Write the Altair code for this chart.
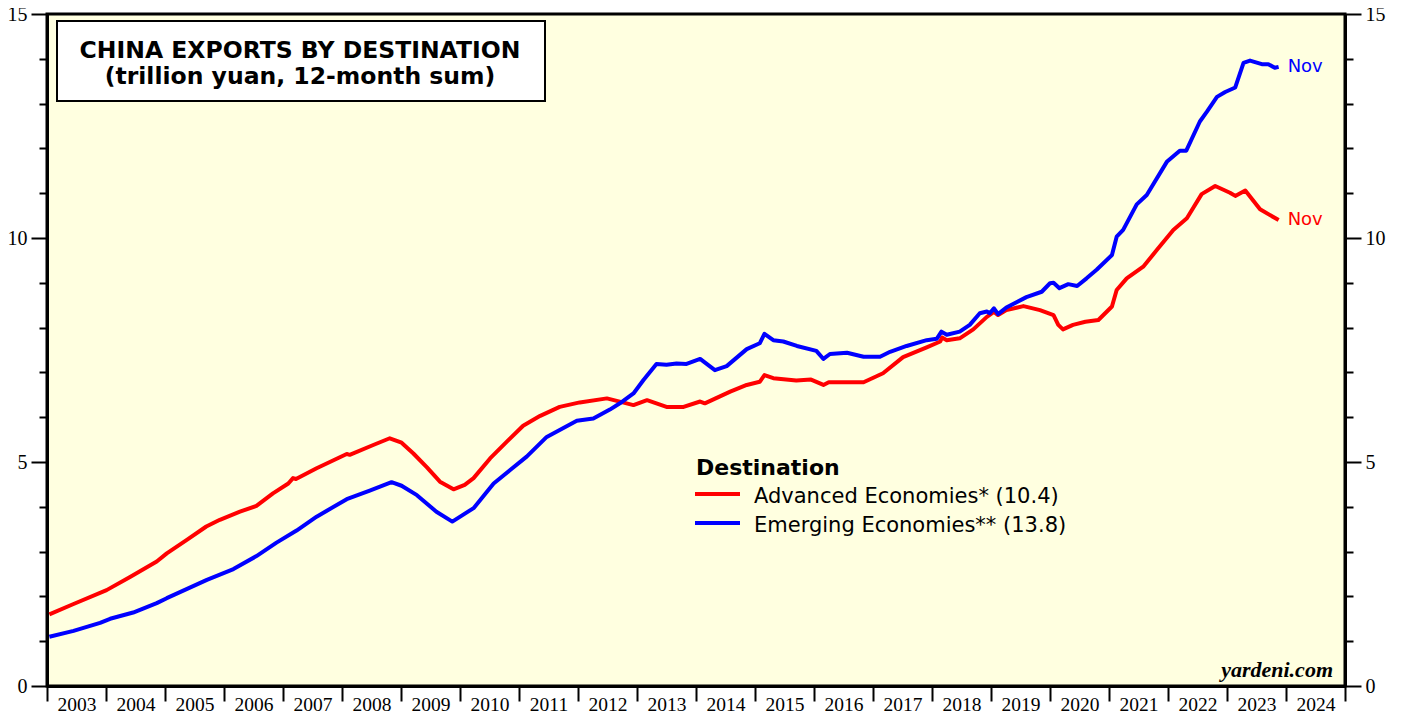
import altair as alt
import pandas as pd

# ---- data (decimal year, trillion yuan) ----
adv_t = [2003.04, 2003.45, 2004.01, 2004.40, 2004.86, 2005.03, 2005.37, 2005.70, 2005.93,
         2006.27, 2006.55, 2006.83, 2007.09, 2007.17, 2007.22, 2007.57, 2008.08, 2008.13,
         2008.53, 2008.81, 2009.01, 2009.21, 2009.44, 2009.66, 2009.89, 2010.08, 2010.23,
         2010.51, 2010.79, 2011.07, 2011.36, 2011.69, 2012.03, 2012.49, 2012.94, 2013.17,
         2013.50, 2013.79, 2014.07, 2014.15, 2014.58, 2014.86, 2015.08, 2015.16, 2015.31,
         2015.70, 2015.95, 2016.16, 2016.25, 2016.84, 2017.17, 2017.51, 2017.91, 2018.14,
         2018.17, 2018.25, 2018.47, 2018.70, 2018.93, 2019.05, 2019.12, 2019.26, 2019.55,
         2019.83, 2020.06, 2020.14, 2020.22, 2020.39, 2020.60, 2020.82, 2021.05, 2021.13,
         2021.30, 2021.58, 2021.81, 2022.09, 2022.32, 2022.57, 2022.80, 2023.05, 2023.14,
         2023.31, 2023.56, 2023.875]
adv_v = [1.60, 1.83, 2.14, 2.43, 2.78, 2.96, 3.26, 3.56, 3.71,
         3.89, 4.02, 4.30, 4.52, 4.64, 4.62, 4.86, 5.18, 5.16,
         5.38, 5.53, 5.43, 5.19, 4.88, 4.56, 4.39, 4.49, 4.64,
         5.08, 5.45, 5.81, 6.03, 6.23, 6.33, 6.42, 6.27, 6.38,
         6.23, 6.23, 6.35, 6.31, 6.57, 6.72, 6.79, 6.94, 6.87,
         6.82, 6.84, 6.72, 6.78, 6.78, 6.98, 7.34, 7.56, 7.69,
         7.78, 7.72, 7.76, 7.96, 8.24, 8.35, 8.28, 8.39, 8.48,
         8.39, 8.28, 8.06, 7.96, 8.06, 8.13, 8.17, 8.47, 8.84,
         9.10, 9.36, 9.73, 10.18, 10.44, 10.98, 11.16, 11.01, 10.94,
         11.06, 10.64, 10.40]

emg_t = [2003.04, 2003.45, 2003.90, 2004.07, 2004.46, 2004.86, 2005.03, 2005.71, 2006.16,
         2006.55, 2006.89, 2007.23, 2007.57, 2008.08, 2008.47, 2008.84, 2009.01, 2009.27,
         2009.60, 2009.87, 2010.23, 2010.57, 2010.85, 2011.13, 2011.47, 2011.98, 2012.26,
         2012.54, 2012.71, 2012.94, 2013.11, 2013.33, 2013.50, 2013.67, 2013.84, 2014.07,
         2014.32, 2014.52, 2014.86, 2015.08, 2015.16, 2015.31, 2015.48, 2015.71, 2016.04,
         2016.16, 2016.27, 2016.56, 2016.84, 2017.12, 2017.29, 2017.57, 2017.91, 2018.08,
         2018.16, 2018.25, 2018.47, 2018.64, 2018.81, 2018.93, 2018.98, 2019.05, 2019.12,
         2019.26, 2019.60, 2019.86, 2020.00, 2020.06, 2020.16, 2020.31, 2020.46, 2020.62,
         2020.79, 2021.05, 2021.13, 2021.24, 2021.47, 2021.64, 2021.98, 2022.20, 2022.31,
         2022.54, 2022.66, 2022.83, 2022.97, 2023.14, 2023.28, 2023.39, 2023.59, 2023.70,
         2023.81, 2023.875]
emg_v = [1.10, 1.23, 1.41, 1.50, 1.64, 1.85, 1.96, 2.37, 2.61,
         2.90, 3.20, 3.47, 3.78, 4.17, 4.36, 4.55, 4.47, 4.26,
         3.89, 3.67, 3.97, 4.52, 4.82, 5.12, 5.56, 5.92, 5.97,
         6.17, 6.31, 6.53, 6.83, 7.19, 7.17, 7.20, 7.19, 7.30,
         7.05, 7.14, 7.52, 7.65, 7.86, 7.72, 7.69, 7.59, 7.48,
         7.30, 7.41, 7.44, 7.35, 7.35, 7.46, 7.59, 7.72, 7.75,
         7.91, 7.84, 7.91, 8.06, 8.32, 8.36, 8.32, 8.43, 8.30,
         8.45, 8.68, 8.80, 8.99, 9.00, 8.88, 8.97, 8.93, 9.10,
         9.29, 9.62, 10.03, 10.18, 10.75, 10.96, 11.70, 11.95, 11.95,
         12.60, 12.82, 13.15, 13.26, 13.36, 13.91, 13.96, 13.88, 13.88,
         13.80, 13.82]

series_names = ["Advanced Economies* (10.4)", "Emerging Economies** (13.8)"]
series_colors = ["#FF0000", "#0000FF"]
end_labels = ["Nov", "Nov"]
years = list(range(2003, 2026))
y_ticks = list(range(0, 16))

rows = [{"t": t, "v": v, "s": series_names[0]} for t, v in zip(adv_t, adv_v)]
rows += [{"t": t, "v": v, "s": series_names[1]} for t, v in zip(emg_t, emg_v)]
df = pd.DataFrame(rows)
last = pd.DataFrame([
    {"t": adv_t[-1], "v": adv_v[-1], "s": series_names[0], "lab": end_labels[0]},
    {"t": emg_t[-1], "v": emg_v[-1], "s": series_names[1], "lab": end_labels[1]},
])
one = pd.DataFrame({"a": [0]})

SANS = "DejaVu Sans"
SERIF = "Liberation Serif"

xscale = alt.Scale(domain=[2003, 2025], nice=False, zero=False)
yscale = alt.Scale(domain=[0, 15], nice=False, zero=True)
cscale = alt.Scale(domain=series_names, range=series_colors)

tick_cond = {"condition": {"test": "datum.value % 5 === 0", "value": 16}, "value": 8}
ylab_expr = "datum.value % 5 === 0 ? datum.label : ''"

x_enc = alt.X("t:Q", scale=xscale, axis=alt.Axis(
    values=years, title=None, format="d", tickSize=15, tickWidth=2, tickColor="black",
    labelOffset=29.5, labelPadding=-6, labelExpr="datum.value == 2025 ? '' : datum.label",
    labelFont=SERIF, labelFontSize=19.5, labelColor="black", labelOverlap=False,
    labelFlush=False, grid=False, domainColor="black", domainWidth=3))

lines = alt.Chart(df).mark_line(strokeWidth=4, strokeJoin="round").encode(
    x=x_enc,
    y=alt.Y("v:Q", scale=yscale, axis=alt.Axis(
        orient="left", values=y_ticks, title=None, tickSize=tick_cond, tickWidth=2,
        tickColor="black", labelExpr=ylab_expr, labelFont=SERIF, labelFontSize=20,
        labelColor="black", labelPadding=4, grid=False, domainColor="black",
        domainWidth=3, labelOverlap=False)),
    color=alt.Color("s:N", scale=cscale, legend=None),
    detail="s:N",
)

nov = alt.Chart(last).mark_text(align="left", baseline="middle", dx=9, font=SANS,
                                fontSize=18).encode(
    x=alt.X("t:Q", scale=xscale),
    y=alt.Y("v:Q", scale=yscale, axis=alt.Axis(
        orient="right", values=y_ticks, title=None, tickSize=tick_cond, tickWidth=2,
        tickColor="black", labelExpr=ylab_expr, labelFont=SERIF, labelFontSize=20,
        labelColor="black", labelPadding=4, grid=False, domainColor="black",
        domainWidth=3, labelOverlap=False)),
    text="lab:N",
    color=alt.Color("s:N", scale=cscale, legend=None),
)

# title box
box = alt.Chart(one).mark_rect(fill="white", stroke="black", strokeWidth=2).encode(
    x=alt.value(10), x2=alt.value(498), y=alt.value(7), y2=alt.value(87))
title1 = alt.Chart(one).mark_text(font=SANS, fontSize=23.5, fontWeight="bold",
                                  align="center", baseline="alphabetic").encode(
    x=alt.value(253), y=alt.value(44), text=alt.value("CHINA EXPORTS BY DESTINATION"))
title2 = alt.Chart(one).mark_text(font=SANS, fontSize=23.5, fontWeight="bold",
                                  align="center", baseline="alphabetic").encode(
    x=alt.value(253), y=alt.value(70), text=alt.value("(trillion yuan, 12-month sum)"))

# legend
leg_title = alt.Chart(one).mark_text(font=SANS, fontSize=22, fontWeight="bold",
                                     align="left", baseline="alphabetic").encode(
    x=alt.value(649), y=alt.value(461), text=alt.value("Destination"))
leg_rule1 = alt.Chart(one).mark_rule(color=series_colors[0], strokeWidth=4).encode(
    x=alt.value(648), x2=alt.value(693), y=alt.value(480))
leg_rule2 = alt.Chart(one).mark_rule(color=series_colors[1], strokeWidth=4).encode(
    x=alt.value(648), x2=alt.value(693), y=alt.value(509))
leg_lab1 = alt.Chart(one).mark_text(font=SANS, fontSize=21, align="left",
                                    baseline="alphabetic", color="black").encode(
    x=alt.value(707), y=alt.value(489), text=alt.value(series_names[0]))
leg_lab2 = alt.Chart(one).mark_text(font=SANS, fontSize=21, align="left",
                                    baseline="alphabetic", color="black").encode(
    x=alt.value(707), y=alt.value(518), text=alt.value(series_names[1]))

credit = alt.Chart(one).mark_text(font=SERIF, fontSize=22, fontWeight="bold",
                                  fontStyle="italic", align="right",
                                  baseline="alphabetic", color="black").encode(
    x=alt.value(1286), y=alt.value(663), text=alt.value("yardeni.com"))

chart = alt.layer(
    lines, nov, box, title1, title2, leg_title, leg_rule1, leg_rule2, leg_lab1,
    leg_lab2, credit
).resolve_scale(y="shared").resolve_axis(y="independent").properties(
    width=1298, height=672,
    autosize=alt.AutoSizeParams(type="none"),
    padding={"left": 39, "top": 6, "right": 50, "bottom": 25},
    background="white",
).configure_view(
    fill="#FFFFE0", stroke="black", strokeWidth=3
)

chart.save("out.html", embed_options={"renderer": "svg", "actions": False})
